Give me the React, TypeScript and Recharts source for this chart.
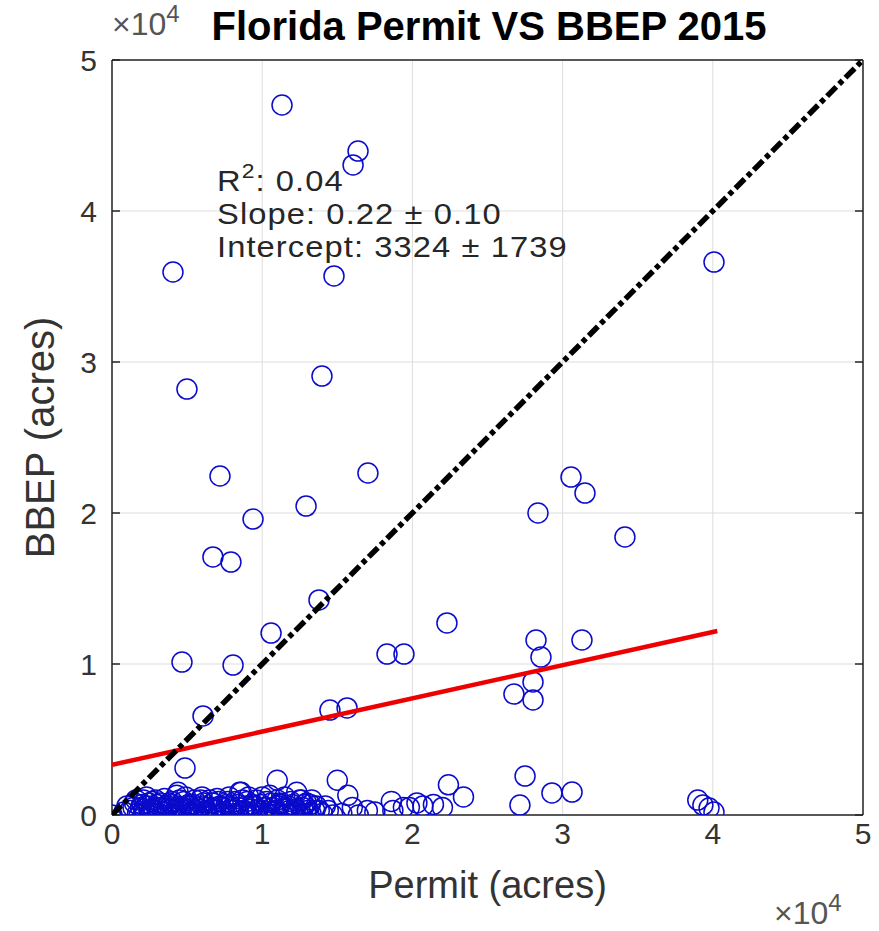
import React from 'react';
import { ScatterChart, Scatter, XAxis, YAxis, CartesianGrid, Label } from 'recharts';

// Permit acres (x) and BBEP acres (y)
const permitAcres = [
  11320, 16380, 16050, 4060, 14780, 40080, 4990, 13980, 7190, 17040,
  9390, 12920, 6720, 7920, 13780, 10590, 8060, 4660, 6060, 14510,
  15650, 18310, 19440, 22300, 4860, 28360, 30560, 31490, 34150, 28230,
  31290, 28560, 28030, 26760, 28030, 27500, 27160, 29290, 30630, 39000,
  39340, 39750, 40080,
  0, 1200, 1500, 1700, 1900, 2100, 2200, 2400, 2500, 2700,
  2800, 3000, 3100, 3300, 3500, 3600, 3800, 3900, 4100, 4300,
  4400, 4600, 4800, 5000, 5200, 5400, 5600, 5900, 6000, 6200,
  6400, 6700, 6900, 7000, 7200, 7500, 7700, 7900, 8100, 8300,
  8600, 8800, 9000, 9200, 9500, 9700, 10000, 10200, 10400, 10600,
  10900, 11100, 11300, 11600, 11900, 12100, 12300, 12500, 12700, 12900,
  13200, 13500, 13800, 14200, 14700, 15000, 15700, 16000, 17000, 18600,
  18700, 19400, 19800, 20300, 20700, 21400, 22000, 22400, 23400, 11000,
  8500, 4400,
  800, 1000, 1600, 2000, 2300, 2600, 2900, 3200, 3400, 3700,
  4000, 4200, 4500, 4700, 4900, 5100, 5300, 5500, 5800, 6100,
  6300, 6500, 6800, 7100, 7300, 7600, 7800, 8000, 8200, 8400,
  8700, 8900, 9100, 9300, 9600, 9900, 10100, 10300, 10500, 10700,
  11000, 11200, 11500, 11800, 12000, 12200, 12600, 12800, 13000, 13300,
  13600, 14000, 14400, 15300, 16400, 17500,
  1400, 1800, 2150, 2450, 2750, 3050, 3350, 3650, 3950, 4250,
  4550, 4850, 5150, 5450, 5750, 6050, 6350, 6650, 6950, 7250,
  7550, 7850, 8150, 8450, 8750, 9050, 9350, 9650, 9950, 10250,
  10550, 10850, 11150, 11450, 11750, 12050, 12350, 12650, 12950, 13250,
];
const bbepAcres = [
  47020, 43970, 43050, 35960, 35700, 36620, 28210, 29070, 22450, 22650,
  19600, 20460, 17090, 16750, 14240, 12050, 9930, 10130, 6560, 6950,
  7090, 10660, 10660, 12720, 3110, 20000, 22380, 21320, 18410, 11590,
  11590, 10460, 8810, 8010, 7620, 2580, 660, 1460, 1520, 990,
  660, 460, 200,
  0, 300, 800, 100, 500, 1000, 200, 600, 0, 900,
  300, 700, 100, 500, 1100, 200, 800, 400, 0, 1300,
  600, 200, 900, 400, 100, 700, 300, 1000, 1200, 500,
  100, 800, 300, 1100, 600, 200, 900, 400, 0, 700,
  1500, 300, 900, 100, 600, 300, 1200, 500, 100, 800,
  300, 600, 100, 400, 900, 200, 1500, 1000, 500, 100,
  700, 300, 300, 600, 0, 2300, 1300, 500, 300, 900,
  300, 500, 500, 800, 600, 700, 500, 2000, 1200, 2300,
  1500, 1500,
  200, 600, 1000, 700, 1200, 400, 1000, 800, 200, 600,
  900, 300, 1000, 500, 1200, 700, 200, 1000, 400, 800,
  300, 1000, 500, 900, 100, 700, 1200, 300, 900, 500,
  1000, 600, 1200, 400, 1000, 700, 300, 900, 1300, 500,
  1000, 700, 1200, 300, 700, 400, 1000, 700, 300, 1000,
  600, 100, 300, 100, 0, 200,
  500, 0, 400, 800, 100, 500, 0, 400, 700, 100,
  500, 0, 600, 300, 0, 600, 0, 400, 0, 500,
  0, 600, 100, 0, 300, 0, 700, 100, 0, 500,
  0, 200, 800, 0, 600, 0, 300, 0, 800, 100,
];

const tickValues = [0, 10000, 20000, 30000, 40000, 50000];
const tickLabels = ['0', '1', '2', '3', '4', '5'];

// regression fit and 1:1 line
const fitSlope = 0.22;
const fitIntercept = 3324;
const fitRange = [0, 40300];
const identityRange = [0, 50000];

const points = permitAcres.map((x, i) => ({ x, y: bbepAcres[i] }));
const fitLine = fitRange.map((x) => ({ x, y: fitIntercept + fitSlope * x }));
const identityLine = identityRange.map((x) => ({ x, y: x }));

const FONT = '"Liberation Sans", Arial, Helvetica, sans-serif';
const TXT = '#333333';

const Ring = (props: any) => {
  const { cx, cy } = props;
  if (cx == null || cy == null) return <g />;
  return <circle cx={cx} cy={cy} r={10} fill="none" stroke="#0a0acc" strokeWidth={1.5} />;
};
const NoShape = () => <g />;

const fmt = (v: number) => tickLabels[tickValues.indexOf(v)] ?? '';
const blank = () => '';

export default function App() {
  return (
    <div style={{ position: 'absolute', left: 0, top: 0, width: 879, height: 931, background: '#fff' }}>
      <ScatterChart width={879} height={931} margin={{ top: 60, right: 16, bottom: 0, left: 0 }}>
        <CartesianGrid xAxisId="x" yAxisId="y" stroke="#dddddd" strokeWidth={1} />
        <XAxis
          xAxisId="x" type="number" dataKey="x" domain={[0, 50000]} ticks={tickValues}
          allowDataOverflow height={116} tickFormatter={fmt} tickLine={false} tickSize={0} tickMargin={8}
          axisLine={{ stroke: '#262626', strokeWidth: 1.5 }}
          tick={{ fontSize: 30, fill: TXT, fontFamily: FONT }}
        >
          <Label
            value="Permit (acres)" position="insideBottom" offset={33}
            style={{ fontSize: 38, fill: TXT, fontFamily: FONT }}
          />
        </XAxis>
        <XAxis
          xAxisId="xb" type="number" domain={[0, 50000]} ticks={tickValues} orientation="bottom" mirror
          allowDataOverflow tickFormatter={blank} tickSize={8} tickLine={{ stroke: '#262626', strokeWidth: 1.5 }}
          axisLine={false}
        />
        <XAxis
          xAxisId="xt" type="number" domain={[0, 50000]} ticks={tickValues} orientation="top" mirror
          allowDataOverflow tickFormatter={blank} tickSize={8} tickLine={{ stroke: '#262626', strokeWidth: 1.5 }}
          axisLine={{ stroke: '#262626', strokeWidth: 1.5 }}
        />
        <YAxis
          yAxisId="y" type="number" dataKey="y" domain={[0, 50000]} ticks={tickValues}
          allowDataOverflow width={112} tickFormatter={fmt} tickLine={false} tickSize={0} tickMargin={15}
          axisLine={{ stroke: '#262626', strokeWidth: 1.5 }}
          tick={{ fontSize: 30, fill: TXT, fontFamily: FONT }}
        >
          <Label
            content={(p: any) => {
              const vb = p.viewBox || {};
              const cx = 54;
              const cy = (vb.y ?? 60) + (vb.height ?? 755) / 2;
              return (
                <text x={cx} y={cy} textAnchor="middle" transform={`rotate(-90 ${cx} ${cy})`}
                  style={{ fontSize: 40, fill: TXT, fontFamily: FONT }}>
                  BBEP (acres)
                </text>
              );
            }}
          />
        </YAxis>
        <YAxis
          yAxisId="yl" type="number" domain={[0, 50000]} ticks={tickValues} orientation="left" mirror
          allowDataOverflow tickFormatter={blank} tickSize={8} tickLine={{ stroke: '#262626', strokeWidth: 1.5 }}
          axisLine={false}
        />
        <YAxis
          yAxisId="yr" type="number" domain={[0, 50000]} ticks={tickValues} orientation="right" mirror
          allowDataOverflow tickFormatter={blank} tickSize={8} tickLine={{ stroke: '#262626', strokeWidth: 1.5 }}
          axisLine={{ stroke: '#262626', strokeWidth: 1.5 }}
        />
        <Scatter xAxisId="x" yAxisId="y" data={points} shape={Ring} isAnimationActive={false} />
        <Scatter
          xAxisId="x" yAxisId="y" data={fitLine} shape={NoShape} isAnimationActive={false}
          line={{ stroke: '#ee0000', strokeWidth: 4.5 }}
        />
        <Scatter
          xAxisId="x" yAxisId="y" data={identityLine} shape={NoShape} isAnimationActive={false}
          line={{ stroke: '#000000', strokeWidth: 5.5, strokeDasharray: '13 4 5 4' }}
        />
      </ScatterChart>
      <svg width={879} height={931} style={{ position: 'absolute', left: 0, top: 0, pointerEvents: 'none' }}>
        <text x={489} y={40} textAnchor="middle" style={{ fontSize: 40, fontWeight: 'bold', fill: '#000', fontFamily: FONT }}>
          Florida Permit VS BBEP 2015
        </text>
        <text x={112} y={35} style={{ fontSize: 32, fill: '#555', fontFamily: FONT }}>
          ×10<tspan dy={-13} style={{ fontSize: 24 }}>4</tspan>
        </text>
        <text x={774} y={924} style={{ fontSize: 32, fill: '#555', fontFamily: FONT }}>
          ×10<tspan dy={-13} style={{ fontSize: 24 }}>4</tspan>
        </text>
        <g
          transform="translate(217 0) scale(1.09 1) translate(-217 0)"
          style={{ fontSize: 30, fill: '#262626', fontFamily: FONT, letterSpacing: 1 }}
        >
          <text x={217} y={191}>
            R<tspan dy={-13} style={{ fontSize: 21 }}>2</tspan><tspan dy={13}>: 0.04</tspan>
          </text>
          <text x={217} y={224}>Slope: 0.22 ± 0.10</text>
          <text x={217} y={257}>Intercept: 3324 ± 1739</text>
        </g>
      </svg>
    </div>
  );
}
